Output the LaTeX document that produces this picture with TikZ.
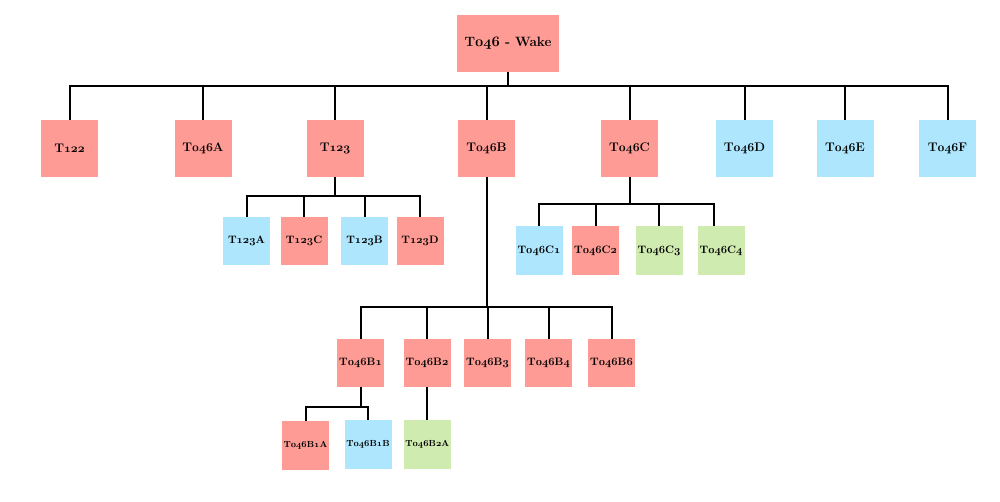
\documentclass[tikz,border=0pt]{standalone}
\definecolor{cred}{HTML}{FE9B94}
\definecolor{cblue}{HTML}{ADE6FD}
\definecolor{cgreen}{HTML}{D0EBAF}
\newcommand{\osn}[1]{{\fontencoding{OML}\fontfamily{cmm}\fontseries{b}\fontshape{it}\selectfont #1}}
\begin{document}
\begin{tikzpicture}[x=1pt,y=-1pt,
  box/.style={draw=none,inner sep=0pt,font=\bfseries\fontsize{12.5}{15}\selectfont,text=black},
  big/.style={box,minimum width=57pt,minimum height=57pt},
  mid/.style={box,minimum width=47pt,minimum height=48pt,font=\bfseries\fontsize{10.8}{13}\selectfont},
  small/.style={box,minimum width=47pt,minimum height=49pt,font=\bfseries\fontsize{8.8}{11}\selectfont},
  link/.style={draw=black,line width=2pt}]
\useasboundingbox (0,0) rectangle (1000,501);
% root
\node[box,fill=cred,minimum width=102pt,minimum height=57pt,font=\bfseries\fontsize{13.5}{16}\selectfont] (root) at (508,43.5) {T\osn{046} - Wake};
% level 1
\node[big,fill=cred] (t122) at (69.5,148.5) {T\osn{122}};
\node[big,fill=cred] (t046a) at (203,148.5) {T\osn{046}A};
\node[big,fill=cred] (t123) at (335,148.5) {T\osn{123}};
\node[big,fill=cred] (t046b) at (486.5,148.5) {T\osn{046}B};
\node[big,fill=cred] (t046c) at (629.5,148.5) {T\osn{046}C};
\node[big,fill=cblue] (t046d) at (744.5,148.5) {T\osn{046}D};
\node[big,fill=cblue] (t046e) at (845,148.5) {T\osn{046}E};
\node[big,fill=cblue] (t046f) at (947.5,148.5) {T\osn{046}F};
% T123 children
\node[mid,fill=cblue] (t123a) at (246.5,241) {T\osn{123}A};
\node[mid,fill=cred] (t123c) at (304,241) {T\osn{123}C};
\node[mid,fill=cblue] (t123b) at (364.5,241) {T\osn{123}B};
\node[mid,fill=cred] (t123d) at (420,241) {T\osn{123}D};
% T046C children
\node[mid,fill=cblue,minimum height=49pt] (c1) at (539,250.5) {T\osn{046}C\osn{1}};
\node[mid,fill=cred,minimum height=49pt] (c2) at (595.5,250.5) {T\osn{046}C\osn{2}};
\node[mid,fill=cgreen,minimum height=49pt] (c3) at (659,250.5) {T\osn{046}C\osn{3}};
\node[mid,fill=cgreen,minimum height=49pt] (c4) at (721,250.5) {T\osn{046}C\osn{4}};
% T046B children
\node[mid,fill=cred] (b1) at (360.5,363) {T\osn{046}B\osn{1}};
\node[mid,fill=cred] (b2) at (427,363) {T\osn{046}B\osn{2}};
\node[mid,fill=cred] (b3) at (487.5,363) {T\osn{046}B\osn{3}};
\node[mid,fill=cred] (b4) at (548.5,363) {T\osn{046}B\osn{4}};
\node[mid,fill=cred] (b6) at (611.5,363) {T\osn{046}B\osn{6}};
% level 4
\node[small,fill=cred] (b1a) at (305.5,445.3) {T\osn{046}B\osn{1}A};
\node[small,fill=cblue] (b1b) at (368,444.2) {T\osn{046}B\osn{1}B};
\node[small,fill=cgreen] (b2a) at (427.3,444.2) {T\osn{046}B\osn{2}A};
% bus coordinates
\coordinate (bus0) at (0,86);
\coordinate (bus1) at (0,195.5);
\coordinate (bus2) at (0,204);
\coordinate (bus3) at (0,306.7);
\coordinate (bus4) at (0,406.7);
% connectors
\foreach \c in {t122,t046a,t123,t046b,t046c,t046d,t046e,t046f}
  \draw[link] (root.south) -- (root.south |- bus0) -| (\c.north);
\foreach \c in {t123a,t123c,t123b,t123d}
  \draw[link] (t123.south) -- (t123.south |- bus1) -| (\c.north);
\foreach \c in {c1,c2,c3}
  \draw[link] (t046c.south) -- (t046c.south |- bus2) -| (\c.north);
\draw[link] (t046c.south) -- (t046c.south |- bus2) -| ([xshift=-7pt]c4.north);
\foreach \c in {b1,b2,b3,b4,b6}
  \draw[link] (t046b.south) -- (t046b.south |- bus3) -| (\c.north);
\foreach \c in {b1a,b1b}
  \draw[link] (b1.south) -- (b1.south |- bus4) -| (\c.north);
\draw[link] (b2.south) -- (b2.south |- b2a.north);
\end{tikzpicture}
\end{document}
